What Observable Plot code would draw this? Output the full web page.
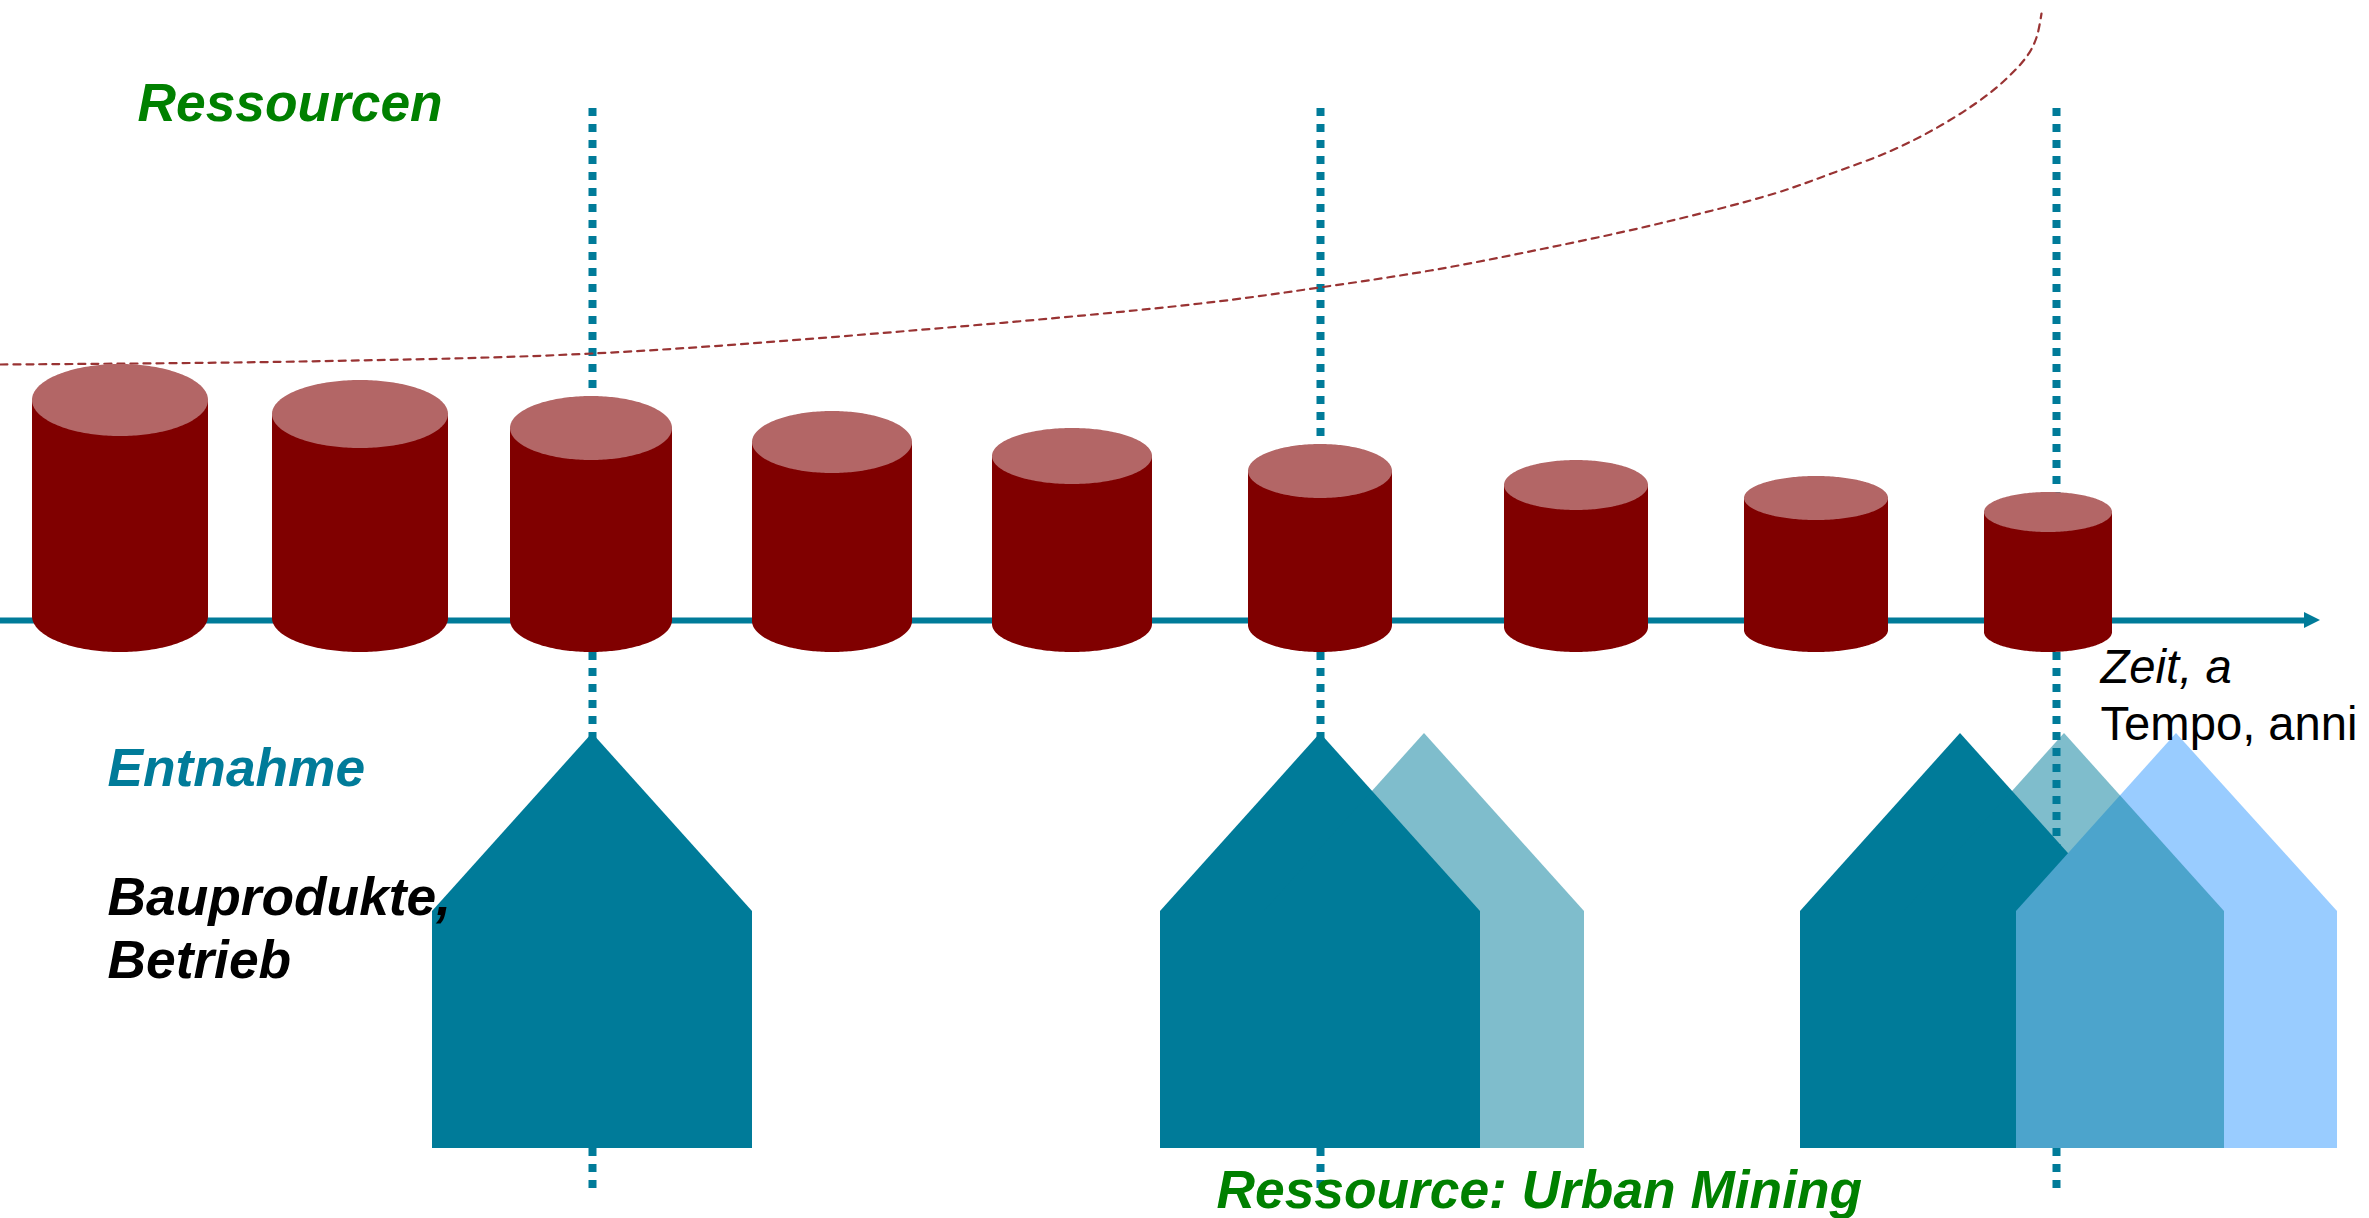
<!DOCTYPE html>
<html lang="de">
<head>
<meta charset="utf-8">
<title>Ressourcen und Urban Mining</title>
<style>
  html, body { margin: 0; padding: 0; background: #fff; }
  svg { display: block; }
</style>
<script src="https://cdn.jsdelivr.net/npm/d3@7"></script>
<script src="https://cdn.jsdelivr.net/npm/@observablehq/plot@0.6"></script>
</head>
<body>
<script>
// Shared plane of the schematic: horizontal time, vertical drawing depth
const planeWidth = 2369;
const planeHeight = 1218;

// Resource stock cylinders along the time axis
const cylinderCenter = [120, 360, 591, 832, 1072, 1320, 1576, 1816, 2048];
const cylinderRadius = [88, 88, 81, 80, 80, 72, 72, 72, 64];
const cylinderTop = [364, 380, 396, 411, 428, 444, 460, 476, 492];
const cylinderLidDepth = [36, 34, 32, 31, 28, 27, 25, 22, 20];
const cylinderBase = 652;

// Time axis
const axisLevel = 620;
const axisStart = 0;
const axisHeadBase = 2304;
const axisTip = 2320;
const axisHeadHalf = 8;

// Dotted markers for the moments of extraction
const markerTimes = [592, 1320, 2056];
const markerFrom = 108;
const markerTo = 1188;

// Houses: left edge, ridge, right edge
const houseRoofEaves = 911;
const houseRidge = 733;
const houseFloor = 1148;
const darkHouses = [[432, 592, 752], [1160, 1320, 1480], [1800, 1960, 2120]];
const paleHouses = [[1264, 1424, 1584], [1904, 2064, 2224]];
const blueHouses = [[2016, 2176, 2337]];

// Dashed curve of the resource use
const curveTime = [0, 300, 592, 900, 1200, 1319, 1430, 1544, 1659, 1774, 1831, 1889, 1935, 1975, 2004, 2027, 2036, 2041];
const curveLevel = [364, 361, 353, 331, 303, 287, 270, 248, 223, 193, 173, 151, 128, 103, 80, 55, 37, 13];

// Labels
const labelText = ["Ressourcen", "Entnahme", "Bauprodukte,", "Betrieb", "Ressource: Urban Mining", "Zeit, a", "Tempo, anni"];
const labelX = [137, 107, 107, 107, 1216, 2100, 2100];
const labelY = [120, 785, 914, 977, 1207, 682, 739];
const labelColor = ["#008000", "#007b99", "#000", "#000", "#008000", "#000", "#000"];
const labelSize = [53.3, 53.3, 53.3, 53.3, 53.3, 47.2, 47.2];
const labelWeight = ["bold", "bold", "bold", "bold", "bold", "normal", "normal"];
const labelStyle = ["italic", "italic", "italic", "italic", "italic", "italic", "normal"];

// Half-turn sample used to outline the elliptical cylinder faces
const turn = d3.range(0, 121).map(i => i / 120 * Math.PI);

const bodies = cylinderCenter.flatMap((c, i) => turn.map(t => {
  const lidCenter = cylinderTop[i] + cylinderLidDepth[i];
  const footCenter = cylinderBase - cylinderLidDepth[i];
  return {id: i, x: c + cylinderRadius[i] * Math.cos(t), y1: lidCenter, y2: footCenter + cylinderLidDepth[i] * Math.sin(t)};
}));

const lids = cylinderCenter.flatMap((c, i) => turn.map(t => {
  const lidCenter = cylinderTop[i] + cylinderLidDepth[i];
  const offset = cylinderLidDepth[i] * Math.sin(t);
  return {id: i, x: c + cylinderRadius[i] * Math.cos(t), y1: lidCenter - offset, y2: lidCenter + offset};
}));

const houseOutline = houses => houses.flatMap((h, id) => [
  {id, x: h[0], roof: houseRoofEaves},
  {id, x: h[1], roof: houseRidge},
  {id, x: h[2], roof: houseRoofEaves}
]);

const houseMark = (houses, options) =>
  Plot.areaY(houseOutline(houses), {x: "x", y1: houseFloor, y2: "roof", z: "id", ...options});

const curve = curveTime.map((x, i) => ({x, y: curveLevel[i]}));
const labels = labelText.map((text, i) => ({text, x: labelX[i], y: labelY[i], i}));

const chart = Plot.plot({
  width: planeWidth,
  height: planeHeight,
  margin: 0,
  x: {domain: [0, planeWidth], range: [0, planeWidth], axis: null},
  y: {domain: [0, planeHeight], range: [0, planeHeight], axis: null},
  marks: [
    // Markers run behind all other shapes
    Plot.ruleX(markerTimes, {
      y1: markerFrom, y2: markerTo,
      stroke: "#007b99", strokeWidth: 8, strokeDasharray: "8 8"
    }),
    Plot.line(curve, {
      x: "x", y: "y", curve: "catmull-rom",
      stroke: "#993333", strokeWidth: 2.2, strokeDasharray: "7 6"
    }),
    // Time axis and its arrowhead
    Plot.ruleY([axisLevel], {x1: axisStart, x2: axisHeadBase, stroke: "#007b99", strokeWidth: 6}),
    Plot.areaY([{x: axisHeadBase, h: axisHeadHalf}, {x: axisTip, h: 0}], {
      x: "x", y1: d => axisLevel - d.h, y2: d => axisLevel + d.h, fill: "#007b99"
    }),
    // Cylinders
    Plot.areaY(bodies, {x: "x", y1: "y1", y2: "y2", z: "id", fill: "#800000"}),
    Plot.areaY(lids, {x: "x", y1: "y1", y2: "y2", z: "id", fill: "#b36666"}),
    // The translucent teal houses sit on top so they tint the blue one
    houseMark(darkHouses, {fill: "#007b99"}),
    houseMark(blueHouses, {fill: "#99ccff"}),
    houseMark(paleHouses, {fill: "#007b99", fillOpacity: 0.5}),
    // Labels, one mark per line so each sits on its own baseline
    ...labels.map(d => Plot.text([d], {
      x: "x", y: "y", text: "text",
      textAnchor: "start", lineAnchor: "bottom",
      fill: labelColor[d.i],
      fontFamily: "Liberation Sans, Arial, sans-serif",
      fontSize: labelSize[d.i],
      fontWeight: labelWeight[d.i],
      fontStyle: labelStyle[d.i]
    }))
  ]
});

document.body.append(chart);
</script>
</body>
</html>
